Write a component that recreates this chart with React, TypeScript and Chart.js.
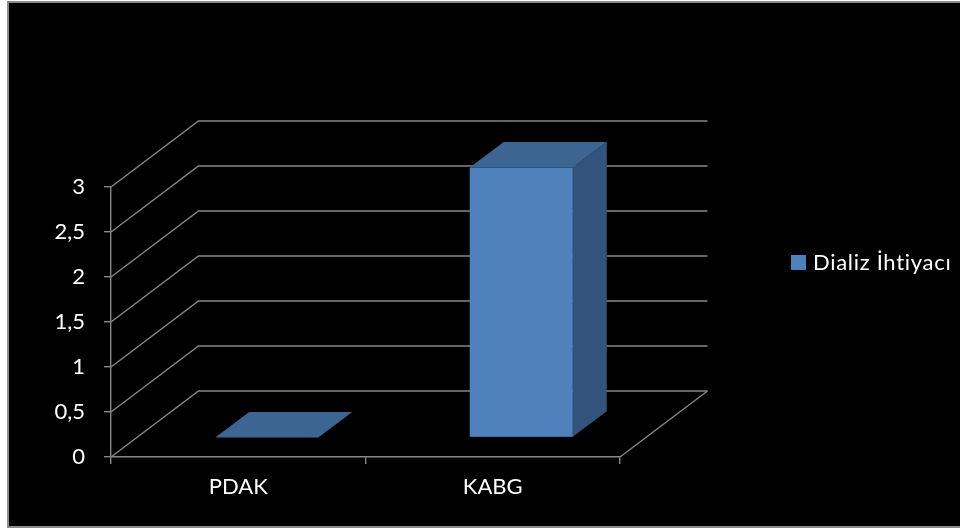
import React, { useEffect, useRef } from "react";
import { Chart, registerables } from "chart.js";

Chart.register(...registerables);

const categories = ["PDAK", "KABG"];
const seriesLabel = "Dializ İhtiyacı";
const seriesValues = [0, 3];
const yMin = 0;
const yMax = 3;
const yStep = 0.5;

const FONT = "Lato, 'Open Sans', sans-serif";
const GRID = "#878787";
const FRONT = "#4F81BD";
const TOP = "#3D6592";
const SIDE = "#32537B";

// 3D geometry (pixels)
const WALL_DX = 87.5;
const WALL_DY = -66;
const BAR_OX = 28.5;
const BAR_OY = -19.5;
const BAR_DX = 34;
const BAR_DY = -25.5;

const threeD = {
  id: "threeD",
  beforeDraw(chart: any) {
    const { ctx, width, height } = chart;
    ctx.save();
    ctx.fillStyle = "#fff";
    ctx.fillRect(0, 0, width, height);
    ctx.fillStyle = "#000";
    ctx.fillRect(7, 1, width - 7, height - 2);
    ctx.strokeStyle = "#8a8a8a";
    ctx.lineWidth = 2;
    ctx.beginPath();
    ctx.moveTo(width + 2, 2);
    ctx.lineTo(8, 2);
    ctx.lineTo(8, 527);
    ctx.lineTo(width + 2, 527);
    ctx.stroke();
    ctx.restore();
  },
  beforeDatasetsDraw(chart: any) {
    const { ctx, chartArea } = chart;
    const ys = chart.scales.y;
    ctx.save();
    ctx.strokeStyle = GRID;
    ctx.lineWidth = 1.4;
    ys.ticks.forEach((t: any) => {
      const y = ys.getPixelForValue(t.value);
      ctx.beginPath();
      ctx.moveTo(chartArea.left, y);
      ctx.lineTo(chartArea.left + WALL_DX, y + WALL_DY);
      ctx.lineTo(chartArea.right + WALL_DX, y + WALL_DY);
      ctx.stroke();
    });
    ctx.beginPath();
    ctx.moveTo(chartArea.right, chartArea.bottom);
    ctx.lineTo(chartArea.right + WALL_DX, chartArea.bottom + WALL_DY);
    ctx.stroke();
    ctx.restore();
  },
  afterDatasetsDraw(chart: any) {
    const { ctx } = chart;
    const meta = chart.getDatasetMeta(0);
    ctx.save();
    meta.data.forEach((el: any) => {
      const p = el.getProps(["x", "y", "base", "width"], true);
      const L = p.x - p.width / 2 + BAR_OX;
      const R = p.x + p.width / 2 + BAR_OX;
      const T = Math.min(p.y, p.base) + BAR_OY;
      const B = Math.max(p.y, p.base) + BAR_OY;
      if (B - T > 0.5) {
        ctx.fillStyle = SIDE;
        ctx.beginPath();
        ctx.moveTo(R, T);
        ctx.lineTo(R + BAR_DX, T + BAR_DY);
        ctx.lineTo(R + BAR_DX, B + BAR_DY);
        ctx.lineTo(R, B);
        ctx.closePath();
        ctx.fill();
        ctx.fillStyle = FRONT;
        ctx.fillRect(L, T, R - L, B - T);
      }
      ctx.fillStyle = TOP;
      ctx.beginPath();
      ctx.moveTo(L, T);
      ctx.lineTo(L + BAR_DX, T + BAR_DY);
      ctx.lineTo(R + BAR_DX, T + BAR_DY);
      ctx.lineTo(R, T);
      ctx.closePath();
      ctx.fill();
    });
    ctx.restore();
  },
  afterDraw(chart: any) {
    const { ctx } = chart;
    ctx.save();
    ctx.fillStyle = FRONT;
    ctx.fillRect(791, 255, 15, 15);
    ctx.fillStyle = "#fff";
    ctx.font = `22px ${FONT}`;
    (ctx as any).letterSpacing = "0.7px";
    ctx.textBaseline = "middle";
    ctx.textAlign = "left";
    ctx.fillText(chart.data.datasets[0].label, 813, 263);
    ctx.restore();
  },
};

export default function App() {
  const ref = useRef<HTMLCanvasElement>(null);
  useEffect(() => {
    if (!ref.current) return;
    const chart = new Chart(ref.current, {
      type: "bar",
      data: {
        labels: categories,
        datasets: [
          {
            label: seriesLabel,
            data: seriesValues,
            backgroundColor: "rgba(0,0,0,0)",
            borderWidth: 0,
            categoryPercentage: 1,
            barPercentage: 0.405,
          },
        ],
      },
      options: {
        responsive: false,
        animation: false,
        events: [],
        layout: { padding: { left: 0, top: 187, right: 340, bottom: 0 } },
        plugins: {
          legend: { display: false },
          tooltip: { enabled: false },
        },
        scales: {
          x: {
            afterFit: (s: any) => {
              s.height = 72;
            },
            grid: {
              offset: true,
              drawOnChartArea: false,
              drawTicks: true,
              tickLength: 7,
              color: GRID,
              lineWidth: 1.4,
            },
            border: { display: true, color: GRID, width: 1.4 },
            ticks: {
              color: "#fff",
              font: { family: FONT, size: 22 },
              padding: 10,
              maxRotation: 0,
            },
          },
          y: {
            min: yMin,
            max: yMax,
            afterFit: (s: any) => {
              s.width = 111;
            },
            grid: {
              drawOnChartArea: false,
              drawTicks: true,
              tickLength: 7,
              color: GRID,
              lineWidth: 1.4,
            },
            border: { display: true, color: GRID, width: 1.4 },
            ticks: {
              stepSize: yStep,
              color: "#fff",
              font: { family: FONT, size: 22 },
              padding: 19,
              callback: (v: any) => String(v).replace(".", ","),
            },
          },
        },
      },
      plugins: [threeD],
    });
    return () => chart.destroy();
  }, []);
  return (
    <div style={{ position: "fixed", left: 0, top: 0, width: 960, height: 529, background: "#000" }}>
      <canvas ref={ref} width={960} height={529} style={{ display: "block" }} />
    </div>
  );
}
